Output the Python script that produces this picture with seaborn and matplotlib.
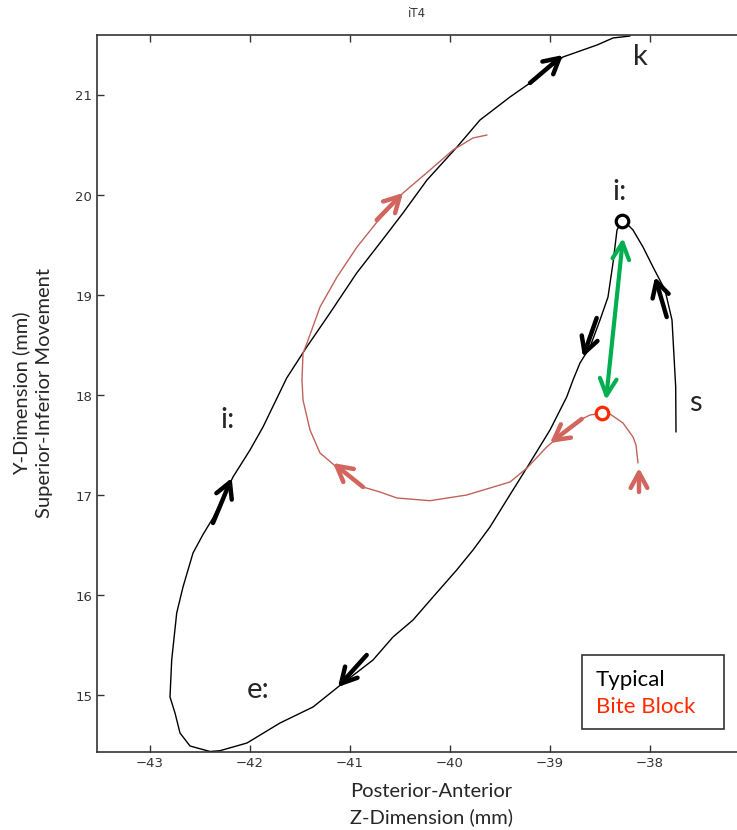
import numpy as np
import pandas as pd
import seaborn as sns
import matplotlib
matplotlib.use("Agg")
from matplotlib import pyplot as plt
from matplotlib.patches import Rectangle

# Typical trajectory (z, y) in mm
typ_z = [-37.74, -37.743, -37.78, -37.85, -37.97, -38.07, -38.17, -38.24, -38.283,
         -38.33, -38.37, -38.42, -38.50, -38.60, -38.70, -38.77, -38.833, -39.00,
         -39.233, -39.433, -39.60, -39.77, -39.933, -40.17, -40.37, -40.57, -40.77,
         -41.12, -41.37, -41.70, -42.03, -42.30, -42.40, -42.60, -42.70, -42.75,
         -42.80, -42.783, -42.733, -42.67, -42.57, -42.47, -42.37, -42.17, -42.00,
         -41.87, -41.633, -41.433, -41.20, -40.933, -40.70, -40.47, -40.23, -39.93,
         -39.70, -39.40, -39.20, -38.87, -38.53, -38.37, -38.20]
typ_y = [17.635, 18.085, 18.755, 19.055, 19.285, 19.485, 19.655, 19.725, 19.74,
         19.655, 19.325, 18.985, 18.755, 18.485, 18.325, 18.155, 17.985, 17.655,
         17.275, 16.955, 16.685, 16.455, 16.255, 15.985, 15.755, 15.585, 15.355,
         15.085, 14.885, 14.725, 14.525, 14.448, 14.44, 14.495, 14.625, 14.825,
         14.985, 15.355, 15.825, 16.085, 16.425, 16.61, 16.775, 17.185, 17.455,
         17.685, 18.175, 18.485, 18.825, 19.225, 19.525, 19.825, 20.155, 20.485,
         20.755, 20.985, 21.125, 21.385, 21.505, 21.575, 21.595]

# Bite block trajectory
bb_z = [-38.12, -38.14, -38.17, -38.27, -38.40, -38.483, -38.60, -38.70, -38.87,
        -39.033, -39.23, -39.40, -39.833, -40.20, -40.53, -40.70, -40.87, -41.10,
        -41.30, -41.40, -41.47, -41.48, -41.47, -41.43, -41.30, -41.13, -40.93,
        -40.73, -40.47, -40.20, -39.97, -39.77, -39.63]
bb_y = [17.325, 17.505, 17.585, 17.725, 17.815, 17.822, 17.805, 17.755, 17.625,
        17.485, 17.275, 17.135, 17.005, 16.948, 16.975, 17.035, 17.085, 17.255,
        17.425, 17.655, 17.955, 18.155, 18.425, 18.525, 18.885, 19.185, 19.485,
        19.735, 20.025, 20.255, 20.455, 20.575, 20.605]

# direction arrows: (tail z, tail y, head z, head y)
typ_arrows = [(-39.20, 21.125, -38.87, 21.405),
              (-37.833, 18.785, -37.95, 19.185),
              (-38.533, 18.775, -38.67, 18.385),
              (-42.37, 16.725, -42.183, 17.175),
              (-40.833, 15.405, -41.12, 15.085)]
bb_arrows = [(-40.733, 19.755, -40.47, 20.025),
             (-40.87, 17.085, -41.17, 17.325),
             (-38.683, 17.765, -39.0, 17.525),
             (-38.11, 17.035, -38.11, 17.275)]

# vowel targets and labels
typ_peak = (-38.283, 19.74)
bb_peak = (-38.483, 17.82)
shift = (-38.27, 19.575, -38.44, 17.955)
labels = ["k", "i:", "s", "i:", "e:"]
label_z = [-38.10, -38.30, -37.55, -42.22, -41.92]
label_y = [21.385, 20.035, 17.925, 17.755, 15.055]
legend_names = ["Typical", "Bite Block"]
legend_colors = ["black", "#ff2a00"]

line_red = "#c0625c"
arrow_red = "#d2655d"

df = pd.concat([
    pd.DataFrame({"z": typ_z, "y": typ_y, "cond": "Typical"}),
    pd.DataFrame({"z": bb_z, "y": bb_y, "cond": "Bite Block"}),
], ignore_index=True)

sns.set_style("white")
plt.rcParams["font.family"] = ["DejaVu Sans"]

fig = plt.figure(figsize=(7.37, 8.30), dpi=100)
ax = fig.add_axes([97 / 737, 78 / 830, 640 / 737, 717 / 830])

sns.lineplot(data=df, x="z", y="y", hue="cond", sort=False, estimator=None,
             palette={"Typical": "black", "Bite Block": line_red},
             linewidth=1.0, legend=False, ax=ax)
for ln in ax.get_lines():
    ln.set_solid_joinstyle("round")

for t in typ_arrows:
    ax.annotate("", xy=(t[2], t[3]), xytext=(t[0], t[1]),
                arrowprops=dict(arrowstyle="->,head_length=0.55,head_width=0.3",
                                color="black", lw=3.2, shrinkA=0, shrinkB=0,
                                mutation_scale=20))
for t in bb_arrows:
    ax.annotate("", xy=(t[2], t[3]), xytext=(t[0], t[1]),
                arrowprops=dict(arrowstyle="->,head_length=0.55,head_width=0.3",
                                color=arrow_red, lw=3.2, shrinkA=0, shrinkB=0,
                                mutation_scale=20))

ax.annotate("", xy=(shift[0], shift[1]), xytext=(shift[2], shift[3]),
            arrowprops=dict(arrowstyle="<->,head_length=0.6,head_width=0.3",
                            color="#00b050", lw=3, shrinkA=0, shrinkB=0,
                            mutation_scale=20))

ax.plot(*typ_peak, marker="o", ms=9, mfc="white", mec="black", mew=2.3, zorder=5)
ax.plot(*bb_peak, marker="o", ms=9, mfc="white", mec="#ff2a00", mew=2.3, zorder=5)

for s, zz, yy in zip(labels, label_z, label_y):
    ax.text(zz, yy, s, fontsize=21, family="Lato", ha="center", va="center")

ax.set_xlim(-43.53, -37.13)
ax.set_ylim(14.435, 21.605)
ax.set_xticks([-43, -42, -41, -40, -39, -38])
ax.set_yticks([15, 16, 17, 18, 19, 20, 21])
ax.tick_params(direction="in", length=5, width=1, color="#333333",
               labelsize=9.5, labelcolor="#333333", top=True, bottom=True, left=True)
for side in ["left", "bottom", "top"]:
    ax.spines[side].set_color("#333333")
    ax.spines[side].set_linewidth(1.2)
ax.spines["right"].set_visible(False)

ax.set_title("iT4", fontsize=8.5, color="#333333", pad=13)
ax.set_xlabel("Posterior-Anterior\nZ-Dimension (mm)", family="Lato", fontsize=14.5,
              multialignment="left", linespacing=1.55)
ax.xaxis.set_label_coords(0.523, -0.043, transform=ax.transAxes)
ax.xaxis.label.set_va("top")
ax.set_ylabel("Y-Dimension (mm)\nSuperior-Inferior Movement", family="Lato",
              fontsize=14.5, linespacing=1.45)
ax.yaxis.set_label_coords(-0.068, 0.5, transform=ax.transAxes)

# legend box drawn by hand so its padding matches the reference
ax.add_patch(Rectangle((0.758, 0.032), 0.222, 0.103, transform=ax.transAxes,
                       facecolor="white", edgecolor="#333333", lw=1.2, zorder=6))
for name, col, yy in zip(legend_names, legend_colors, [0.1004, 0.0628]):
    ax.text(0.779, yy, name, color=col, family="Lato", fontsize=16,
            ha="left", va="center", transform=ax.transAxes, zorder=7)

fig.savefig("out.png", dpi=100)
